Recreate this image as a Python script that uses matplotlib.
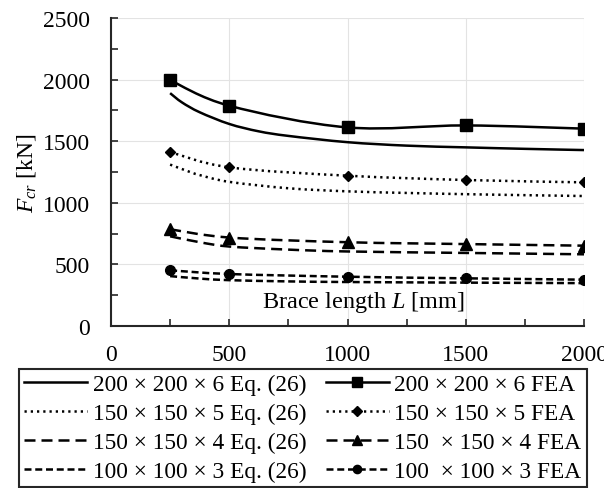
import matplotlib
matplotlib.use("Agg")
import matplotlib.pyplot as plt
from matplotlib.path import Path
from matplotlib.patches import PathPatch
from matplotlib.lines import Line2D
from matplotlib.ticker import MultipleLocator

plt.rcParams['font.family'] = ['Liberation Serif', 'DejaVu Serif']
plt.rcParams['mathtext.fontset'] = 'custom'
plt.rcParams['mathtext.rm'] = 'Liberation Serif'
plt.rcParams['mathtext.it'] = 'Liberation Serif:italic'

# FEA results (brace length in mm, critical load in kN)
L_fea = [250, 500, 1000, 1500, 2000]
fea_200_6 = [1995, 1788, 1612, 1628, 1602]
fea_150_5 = [1412, 1288, 1220, 1185, 1166]
fea_150_4 = [785, 718, 680, 665, 652]
fea_100_3 = [452, 422, 400, 387, 376]

# Eq. (26) curves
L_eq_200_6 = [250, 300, 375, 500, 625, 750, 1000, 1250, 1500, 1750, 2000]
eq_200_6 = [1890, 1815, 1735, 1640, 1580, 1543, 1492, 1464, 1450, 1438, 1428]
L_eq_150_5 = [250, 320, 375, 500, 750, 1000, 1250, 1500, 1750, 2000]
eq_150_5 = [1310, 1260, 1225, 1170, 1118, 1093, 1080, 1070, 1062, 1055]
L_eq_150_4 = [250, 375, 500, 750, 1000, 1500, 2000]
eq_150_4 = [728, 680, 645, 620, 605, 593, 582]
L_eq_100_3 = [250, 375, 500, 750, 1000, 1500, 2000]
eq_100_3 = [405, 385, 372, 362, 357, 352, 348]

labels_eq = ["200 × 200 × 6 Eq. (26)", "150 × 150 × 5 Eq. (26)",
             "150 × 150 × 4 Eq. (26)", "100 × 100 × 3 Eq. (26)"]
labels_fea = ["200 × 200 × 6 FEA", "150 × 150 × 5 FEA",
              "150  × 150 × 4 FEA", "100  × 100 × 3 FEA"]


def smooth_path(xs, ys):
    """Excel-like smoothed line: cubic Bezier segments through the points"""
    pts = list(zip(xs, ys))
    n = len(pts)
    verts = [pts[0]]
    codes = [Path.MOVETO]
    for i in range(n - 1):
        p0 = pts[i - 1] if i > 0 else pts[i]
        p1 = pts[i]
        p2 = pts[i + 1]
        p3 = pts[i + 2] if i + 2 < n else pts[i + 1]
        c1 = (p1[0] + (p2[0] - p0[0]) / 6, p1[1] + (p2[1] - p0[1]) / 6)
        c2 = (p2[0] - (p3[0] - p1[0]) / 6, p2[1] - (p3[1] - p1[1]) / 6)
        verts += [c1, c2, p2]
        codes += [Path.CURVE4] * 3
    return Path(verts, codes)


lw = 1.8
solid = '-'
dotted = (0, (0.9, 1.6))
dash_long = (0, (4.4, 2.4))
dash_short = (0, (2.8, 1.5))

fig = plt.figure(figsize=(6.04, 4.89), dpi=100)
ax = fig.add_axes([111 / 604, 1 - 327 / 489, 473 / 604, 308 / 489])

eq_series = [(L_eq_200_6, eq_200_6, solid), (L_eq_150_5, eq_150_5, dotted),
             (L_eq_150_4, eq_150_4, dash_long), (L_eq_100_3, eq_100_3, dash_short)]
fea_series = [(fea_200_6, solid, 's', 8), (fea_150_5, dotted, 'D', 5.5),
              (fea_150_4, dash_long, '^', 8), (fea_100_3, dash_short, 'o', 7)]

handles = []
for xs, ys, ls in eq_series:
    ax.add_patch(PathPatch(smooth_path(xs, ys), fill=False, edgecolor='black',
                           linewidth=lw, linestyle=ls, zorder=3))
    handles.append(Line2D([], [], color='black', lw=lw, ls=ls))
for ys, ls, mk, ms in fea_series:
    ax.add_patch(PathPatch(smooth_path(L_fea, ys), fill=False, edgecolor='black',
                           linewidth=lw, linestyle=ls, zorder=3))
    ax.plot(L_fea, ys, linestyle='none', marker=mk, markersize=ms,
            color='black', zorder=4)
handles_fea = [Line2D([], [], color='black', lw=lw, ls=ls, marker=mk,
                      markersize=ms * 0.85)
               for ys, ls, mk, ms in fea_series]

ax.set_xlim(0, 2000)
ax.set_ylim(0, 2500)
ax.xaxis.set_major_locator(MultipleLocator(500))
ax.xaxis.set_minor_locator(MultipleLocator(250))
ax.yaxis.set_major_locator(MultipleLocator(500))
ax.yaxis.set_minor_locator(MultipleLocator(250))
ax.grid(True, which='major', color='#e3e3e3', linewidth=0.8)
ax.set_axisbelow(True)
for side in ['top', 'right']:
    ax.spines[side].set_visible(False)
for side in ['left', 'bottom']:
    ax.spines[side].set_color('#262626')
    ax.spines[side].set_linewidth(1.5)
ax.tick_params(which='both', direction='in', length=5, width=1.2, color='#262626',
               labelsize=17)
ax.tick_params(axis='x', which='major', pad=13)
ax.tick_params(axis='y', which='major', pad=15)

ax.set_ylabel('$F_{cr}$ [kN]', fontsize=17)
ax.yaxis.set_label_coords(-0.155, 0.5)
ax.text(0.533, 0.081, 'Brace length $L$ [mm]', transform=ax.transAxes,
        ha='center', va='center', fontsize=17.5)

leg = fig.legend(handles + handles_fea, labels_eq + labels_fea, ncol=2,
                 loc='center', bbox_to_anchor=(303 / 604, 60 / 489),
                 fontsize=16.8, frameon=True, fancybox=False, framealpha=1,
                 edgecolor='#262626', handlelength=2.7, handletextpad=0.25,
                 columnspacing=0.8, labelspacing=0.32, borderpad=0.22,
                 borderaxespad=0)
leg.get_frame().set_linewidth(1.5)

fig.savefig('out.png', dpi=100)
